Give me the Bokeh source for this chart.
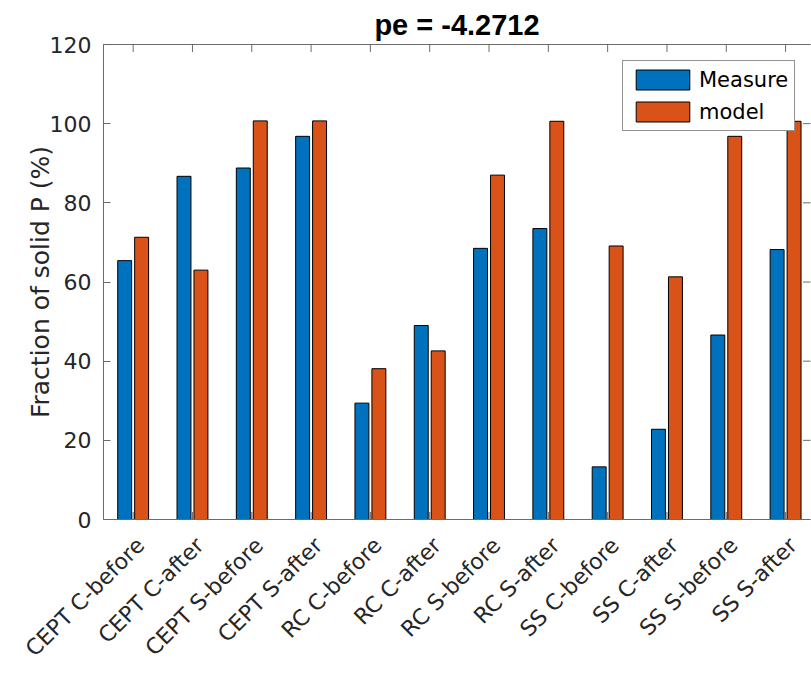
import numpy as np
from bokeh.plotting import figure
from bokeh.models import Range1d, FixedTicker, LinearAxis, Title, Legend, LegendItem
from bokeh.embed import file_html
from bokeh.resources import INLINE

categories = ["CEPT C-before", "CEPT C-after", "CEPT S-before", "CEPT S-after",
              "RC C-before", "RC C-after", "RC S-before", "RC S-after",
              "SS C-before", "SS C-after", "SS S-before", "SS S-after"]
measure = [65.4, 86.7, 88.8, 96.8, 29.4, 49.0, 68.5, 73.5, 13.3, 22.8, 46.6, 68.2]
model = [71.3, 63.0, 100.7, 100.7, 38.1, 42.6, 87.0, 100.6, 69.1, 61.3, 96.8, 100.6]
y_ticks = [0, 20, 40, 60, 80, 100, 120]
series_names = ["Measure", "model"]
title_text = "pe = -4.2712"
y_label = "Fraction of solid P (%)"

BLUE = "#0072BD"
ORANGE = "#D95319"
AX = "#6b6b6b"
TXT = "#262626"
FONT = "DejaVu Sans"

pos = np.arange(1, len(categories) + 1)
bar_w = 0.235
off = 0.143
x_end = 12.42
label_shift = 0.125  # rotated labels end slightly right of each category tick

p = figure(width=811, height=673, x_range=Range1d(0.5, x_end), y_range=Range1d(y_ticks[0], y_ticks[-1]),
           x_axis_type=None, y_axis_type=None, toolbar_location=None, output_backend="svg",
           min_border_left=103, min_border_top=44, min_border_bottom=154, min_border_right=1)
p.outline_line_color = None
p.background_fill_color = "white"
p.border_fill_color = "white"

# inward box ticks on the bottom, top and right edges (half of each dash is clipped by the frame)
p.scatter(x=pos, y=[y_ticks[0]] * len(pos), marker="dash", angle=np.pi / 2, size=15,
          line_color=AX, line_width=1)
r1 = p.vbar(x=pos - off, top=measure, width=bar_w, fill_color=BLUE, line_color="black", line_width=1)
r2 = p.vbar(x=pos + off, top=model, width=bar_w, fill_color=ORANGE, line_color="black", line_width=1)
p.scatter(x=pos, y=[y_ticks[-1]] * len(pos), marker="dash", angle=np.pi / 2, size=15,
          line_color=AX, line_width=1)
p.scatter(x=[x_end] * len(y_ticks), y=y_ticks, marker="dash", size=15, line_color=AX, line_width=1)

# left axis
yax = LinearAxis(ticker=FixedTicker(ticks=y_ticks), axis_label=y_label)
yax.major_tick_in = 7
yax.major_tick_out = 0
yax.minor_tick_in = 0
yax.minor_tick_out = 0
yax.axis_line_color = AX
yax.major_tick_line_color = AX
yax.major_label_text_font = FONT
yax.major_label_text_font_size = "22px"
yax.major_label_text_color = TXT
yax.major_label_standoff = 12
yax.axis_label_text_font = FONT
yax.axis_label_text_font_size = "25px"
yax.axis_label_text_font_style = "normal"
yax.axis_label_text_color = TXT
yax.axis_label_standoff = -8
p.add_layout(yax, "left")

# bottom axis (labels only; its ticks are drawn above as inward dashes)
label_pos = [float(i) + label_shift for i in pos]
xax = LinearAxis(ticker=FixedTicker(ticks=label_pos),
                 major_label_overrides={lp: c for lp, c in zip(label_pos, categories)})
xax.major_label_orientation = np.pi / 4
xax.major_tick_in = 0
xax.major_tick_out = 0
xax.minor_tick_in = 0
xax.minor_tick_out = 0
xax.axis_line_color = AX
xax.major_label_text_font = FONT
xax.major_label_text_font_size = "22px"
xax.major_label_text_color = TXT
xax.major_label_standoff = 22
p.add_layout(xax, "below")

# top axis line (box)
tax = LinearAxis(ticker=FixedTicker(ticks=[]))
tax.major_tick_in = 0
tax.major_tick_out = 0
tax.minor_tick_in = 0
tax.minor_tick_out = 0
tax.axis_line_color = AX
tax.major_label_standoff = 0
p.add_layout(tax, "above")

title = Title(text=title_text, align="center", text_font="Liberation Sans", text_font_style="bold",
              text_font_size="29px", text_color="black", standoff=8)
p.add_layout(title, "above")

legend = Legend(items=[LegendItem(label=series_names[0], renderers=[r1]),
                       LegendItem(label=series_names[1], renderers=[r2])],
                location=(519, 388))
legend.glyph_width = 67
legend.glyph_height = 25
legend.label_height = 25
legend.label_text_font = FONT
legend.label_text_font_size = "21px"
legend.label_text_color = "black"
legend.label_standoff = 3
legend.padding = 6
legend.spacing = 7
legend.margin = 0
legend.border_line_color = TXT
legend.border_line_width = 1
legend.background_fill_alpha = 1
p.add_layout(legend)

open("out.html", "w").write(file_html(p, INLINE))
